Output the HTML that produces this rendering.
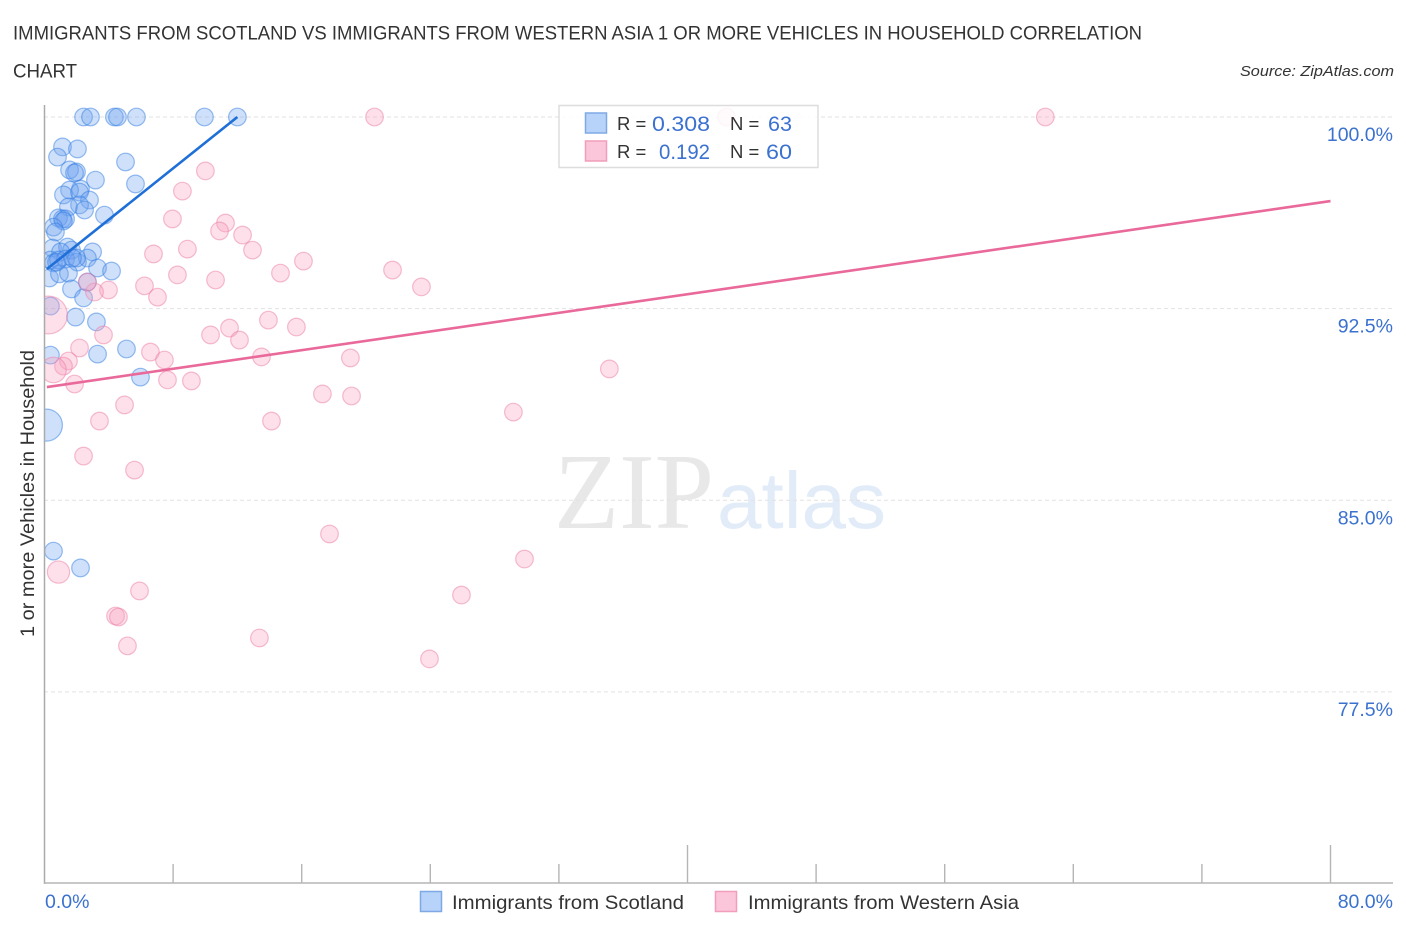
<!DOCTYPE html>
<html lang="en">
<head>
<meta charset="utf-8">
<title>Immigrants from Scotland vs Immigrants from Western Asia correlation chart</title>
<style>
html,body{margin:0;padding:0;background:#fff;width:1406px;height:930px;overflow:hidden}
svg{display:block;font-family:"Liberation Sans",sans-serif}
</style>
</head>
<body>
<svg id="chart" xmlns="http://www.w3.org/2000/svg" width="1406" height="930" viewBox="0 0 1406 930">
  <defs><clipPath id="plot-clip"><rect x="44" y="95" width="1350" height="788"/></clipPath></defs>
  <rect width="1406" height="930" fill="#fff"/>
  <text x="13" y="39.5" font-size="19.5" fill="#333" textLength="1129" lengthAdjust="spacingAndGlyphs">IMMIGRANTS FROM SCOTLAND VS IMMIGRANTS FROM WESTERN ASIA 1 OR MORE VEHICLES IN HOUSEHOLD CORRELATION</text>
  <text x="13" y="77.5" font-size="19.5" fill="#333" textLength="64" lengthAdjust="spacingAndGlyphs">CHART</text>
  <text x="1394" y="76" font-size="15" font-style="italic" fill="#333" text-anchor="end" textLength="154" lengthAdjust="spacingAndGlyphs">Source: ZipAtlas.com</text>
  <text transform="translate(34 637) rotate(-90)" font-size="19.5" fill="#333" textLength="287" lengthAdjust="spacingAndGlyphs">1 or more Vehicles in Household</text>

  <g>
    <text x="554" y="528" style="font-family:'Liberation Serif',serif" font-size="108" fill="#e8e8e8" textLength="160" lengthAdjust="spacingAndGlyphs">ZIP</text>
    <text x="717" y="528" style="font-family:'Liberation Sans',sans-serif" font-size="80" fill="#e2ecf9" textLength="169" lengthAdjust="spacingAndGlyphs">atlas</text>
  </g>

  <g id="grid"></g>
  <g id="points" clip-path="url(#plot-clip)"></g>
  <g id="trends"></g>
  <g id="axes"></g>
  <g id="ytick-labels"></g>
  <g id="xtick-labels"></g>

  <g>
    <rect x="559" y="105.5" width="259" height="62" fill="#fff" fill-opacity="0.85" stroke="#ddd" stroke-width="1.5"/>
    <rect x="585.5" y="113" width="21" height="20" fill="#b7d3f9" stroke="#7fa9e6" stroke-width="1.5"/>
    <rect x="585.5" y="141" width="21" height="20" fill="#fcc6da" stroke="#f29dbb" stroke-width="1.5"/>
    <text x="617" y="130" font-size="18.5" fill="#333">R =</text>
    <text x="710" y="131" font-size="21" fill="#3b71cf" text-anchor="end" textLength="58" lengthAdjust="spacingAndGlyphs">0.308</text>
    <text x="730" y="130" font-size="18.5" fill="#333">N =</text>
    <text x="792" y="131" font-size="21" fill="#3b71cf" text-anchor="end" textLength="24" lengthAdjust="spacingAndGlyphs">63</text>
    <text x="617" y="158" font-size="18.5" fill="#333">R =</text>
    <text x="710" y="159" font-size="21" fill="#3b71cf" text-anchor="end" textLength="51" lengthAdjust="spacingAndGlyphs">0.192</text>
    <text x="730" y="158" font-size="18.5" fill="#333">N =</text>
    <text x="792" y="159" font-size="21" fill="#3b71cf" text-anchor="end" textLength="26" lengthAdjust="spacingAndGlyphs">60</text>
  </g>

  <g>
    <rect x="420.5" y="891.5" width="21" height="20" fill="#b7d3f9" stroke="#7fa9e6" stroke-width="1.5"/>
    <text x="452" y="909" font-size="19.5" fill="#333" textLength="232" lengthAdjust="spacingAndGlyphs">Immigrants from Scotland</text>
    <rect x="715.5" y="891.5" width="21" height="20" fill="#fcc6da" stroke="#f29dbb" stroke-width="1.5"/>
    <text x="748" y="909" font-size="19.5" fill="#333" textLength="271" lengthAdjust="spacingAndGlyphs">Immigrants from Western Asia</text>
  </g>
</svg>
<script>
// Chart data (x = share of immigrants, %; y = 1 or more vehicles in household, %)
const scotlandX = [2.43,2.86,4.35,4.54,5.72,9.95,12.0,1.12,2.05,0.81,5.04,1.56,1.99,1.87,3.17,5.66,2.24,1.56,1.18,2.18,2.80,2.18,1.49,2.49,3.73,0.87,1.12,1.31,1.18,0.56,0.68,0.50,1.43,1.68,2.99,1.00,0.37,0.56,0.87,1.31,2.05,2.67,1.99,3.30,4.17,0.31,0.93,1.49,2.67,1.68,2.43,0.37,1.93,3.23,0.37,3.30,5.10,5.97,0.12,0.56,2.24,0.75,1.74];
const scotlandY = [100,100,100,100,100,100,100,98.83,98.75,98.43,98.24,97.93,97.85,97.81,97.53,97.38,97.18,97.14,96.95,97.06,96.75,96.56,96.48,96.36,96.16,96.05,96.01,96.01,95.93,95.69,95.50,94.87,94.91,94.79,94.72,94.72,94.40,94.29,94.40,94.44,94.32,94.48,94.48,94.09,93.97,93.70,93.86,93.89,93.54,93.27,92.92,92.60,92.17,91.98,90.68,90.72,90.92,89.82,87.94,83.01,82.35,94.32,94.48];
const scotlandLargeWeights = {58: 3.3};

const westernAsiaX = [10.01,8.58,7.96,11.26,10.89,12.32,12.94,8.89,6.78,16.11,8.27,10.64,14.68,6.22,7.03,3.98,3.11,2.67,21.65,23.45,20.53,42.42,62.26,13.93,15.67,10.33,11.51,12.13,3.67,2.18,1.49,1.18,0.56,6.59,7.46,13.50,7.65,9.14,1.87,0.25,19.03,19.10,17.29,35.14,29.17,4.98,3.42,14.12,2.43,5.60,0.87,5.91,4.42,4.60,5.16,13.37,17.73,29.86,25.94,23.95];
const westernAsiaY = [97.89,97.10,96.01,95.85,95.54,95.38,94.79,94.83,94.64,94.36,93.82,93.62,93.89,93.39,92.95,93.23,93.15,93.54,94.01,93.35,100,100,100,92.05,91.78,91.47,91.74,91.27,91.47,90.96,90.45,90.25,90.10,90.80,90.49,90.61,89.71,89.67,89.55,92.25,90.57,89.08,89.16,90.14,88.45,88.73,88.10,88.10,86.73,86.18,82.19,81.45,80.47,80.43,79.30,79.61,83.68,82.70,81.29,78.79];
const westernAsiaLargeWeights = {32: 2.1, 39: 4.6, 50: 1.6};

const scotlandTrendX = [0.15, 12.0];
const scotlandTrendY = [94.05, 100];
const westernAsiaTrendX = [0.15, 80];
const westernAsiaTrendY = [89.43, 96.71];

const yTicks = [100, 92.5, 85, 77.5];
const yTickLabels = ['100.0%', '92.5%', '85.0%', '77.5%'];
const xTicks = [0, 8, 16, 24, 32, 40, 48, 56, 64, 72, 80];
const xMajorTicks = [40, 80];
const xTickLabels = ['0.0%', '80.0%'];

// Axis functions
const xScale = function (v) { return 44.5 + v * 16.075; };
const yScale = function (v) { return 117 + (100 - v) * 25.55; };

const NS = 'http://www.w3.org/2000/svg';
const grid = document.getElementById('grid');
const axes = document.getElementById('axes');
const pointsLayer = document.getElementById('points');
const trends = document.getElementById('trends');
const yLabels = document.getElementById('ytick-labels');
const xLabels = document.getElementById('xtick-labels');

function svgEl(tag, attrs) {
  const el = document.createElementNS(NS, tag);
  Object.keys(attrs).forEach(function (k) { el.setAttribute(k, attrs[k]); });
  return el;
}

yTicks.forEach(function (t, i) {
  const line = svgEl('line', {x1: 44, x2: 1393, y1: yScale(t), y2: yScale(t), stroke: '#e2e2e2', 'stroke-width': 1, 'stroke-dasharray': '4 3'});
  
  
  grid.appendChild(line);
  const label = svgEl('text', {x: 1393, y: yScale(t) + 24, 'font-size': 19.5, fill: '#3b71cf', 'text-anchor': 'end'});
  
  
  label.textContent = yTickLabels[i];
  yLabels.appendChild(label);
});

xTicks.forEach(function (t) {
  if (t === 0) return;
  const top = xMajorTicks.indexOf(t) >= 0 ? 845 : 864;
  const tick = svgEl('line', {x1: xScale(t), x2: xScale(t), y1: top, y2: 883, stroke: '#b5b5b5', 'stroke-width': 1.4});
  
  
  axes.appendChild(tick);
});

const yAxisLine = svgEl('line', {x1: 44.5, x2: 44.5, y1: 105, y2: 884, stroke: '#aaa', 'stroke-width': 1.5});


axes.appendChild(yAxisLine);

const xAxisLine = svgEl('line', {x1: 44, x2: 1393, y1: 883, y2: 883, stroke: '#b5b5b5', 'stroke-width': 1.6});


axes.appendChild(xAxisLine);

const xLabelMin = svgEl('text', {x: 45, y: 908, 'font-size': 19.5, fill: '#3b71cf'});


xLabelMin.textContent = xTickLabels[0];
xLabels.appendChild(xLabelMin);

const xLabelMax = svgEl('text', {x: 1393, y: 908, 'font-size': 19.5, fill: '#3b71cf', 'text-anchor': 'end'});


xLabelMax.textContent = xTickLabels[1];
xLabels.appendChild(xLabelMax);

scotlandX.forEach(function (x, i) {
  const w = scotlandLargeWeights[i] || 1;
  const dot = svgEl('circle', {cx: xScale(x), cy: yScale(scotlandY[i]), r: 8.8 * Math.sqrt(w), fill: 'rgba(105,160,238,0.32)', stroke: 'rgba(50,125,225,0.5)', 'stroke-width': 1.2});
  
  
  pointsLayer.appendChild(dot);
});

westernAsiaX.forEach(function (x, i) {
  const w = westernAsiaLargeWeights[i] || 1;
  const dot = svgEl('circle', {cx: xScale(x), cy: yScale(westernAsiaY[i]), r: 8.8 * Math.sqrt(w), fill: 'rgba(248,160,190,0.33)', stroke: 'rgba(235,125,165,0.5)', 'stroke-width': 1.2});
  
  
  pointsLayer.appendChild(dot);
});

const scotlandTrend = svgEl('line', {x1: xScale(scotlandTrendX[0]), y1: yScale(scotlandTrendY[0]), x2: xScale(scotlandTrendX[1]), y2: yScale(scotlandTrendY[1]), stroke: '#1f6fd8', 'stroke-width': 2.6});


trends.appendChild(scotlandTrend);

const westernAsiaTrend = svgEl('line', {x1: xScale(westernAsiaTrendX[0]), y1: yScale(westernAsiaTrendY[0]), x2: xScale(westernAsiaTrendX[1]), y2: yScale(westernAsiaTrendY[1]), stroke: '#e9699a', 'stroke-width': 2.6});


trends.appendChild(westernAsiaTrend);
</script>
</body>
</html>
